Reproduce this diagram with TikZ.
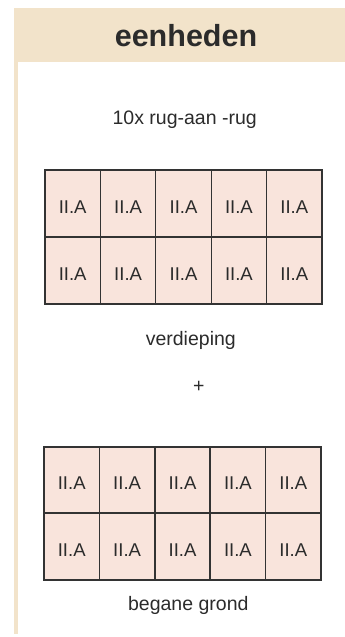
\documentclass[tikz,border=0pt]{standalone}
\usepackage{fontspec}
\setmainfont{Liberation Sans}
\definecolor{headbg}{HTML}{F2E3CA}
\definecolor{cellbg}{HTML}{F9E4DC}
\definecolor{ink}{HTML}{2B2B2B}
\definecolor{edge}{HTML}{333333}
\begin{document}
\begin{tikzpicture}[x=1pt,y=-1pt,
  lbl/.style={inner sep=0pt,text=ink,font=\fontsize{19.5}{22}\selectfont,anchor=base},
  cellA/.style={draw=edge,line width=1.2pt,fill=cellbg,minimum width=55.4pt,minimum height=67pt,inner sep=0pt,text height=19pt,text depth=0pt,text=ink,font=\fontsize{18.5}{20}\selectfont},
  cellB/.style={cellA,line width=1.7pt,minimum height=66.6pt}]
\useasboundingbox (0,0) rectangle (345,637);
\fill[headbg] (14,8) rectangle (345,62);
\fill[headbg] (14,62) rectangle (17.5,634);
\node[inner sep=0pt,anchor=base,text=ink,font=\bfseries\fontsize{30.5}{34}\selectfont] (title) at (186,46.5) {eenheden};
\node[lbl] (count) at (184.7,124.3) {10x rug-aan -rug};
\foreach \r in {0,1}{
  \foreach \c in {0,...,4}{
    \node[cellA] (u\r\c) at ({45+27.7+55.4*\c},{170+33.5+67*\r}) {II.A};
  }
}
\node[lbl] (floor) at (190.8,345) {verdieping};
\node[lbl] (plus) at (198.7,392) {+};
\foreach \r in {0,1}{
  \foreach \c in {0,...,4}{
    \node[cellB] (g\r\c) at ({44+27.7+55.4*\c},{446.7+33.3+66.6*\r}) {II.A};
  }
}
\node[lbl] (ground) at (188.3,610) {begane grond};
\end{tikzpicture}
\end{document}
